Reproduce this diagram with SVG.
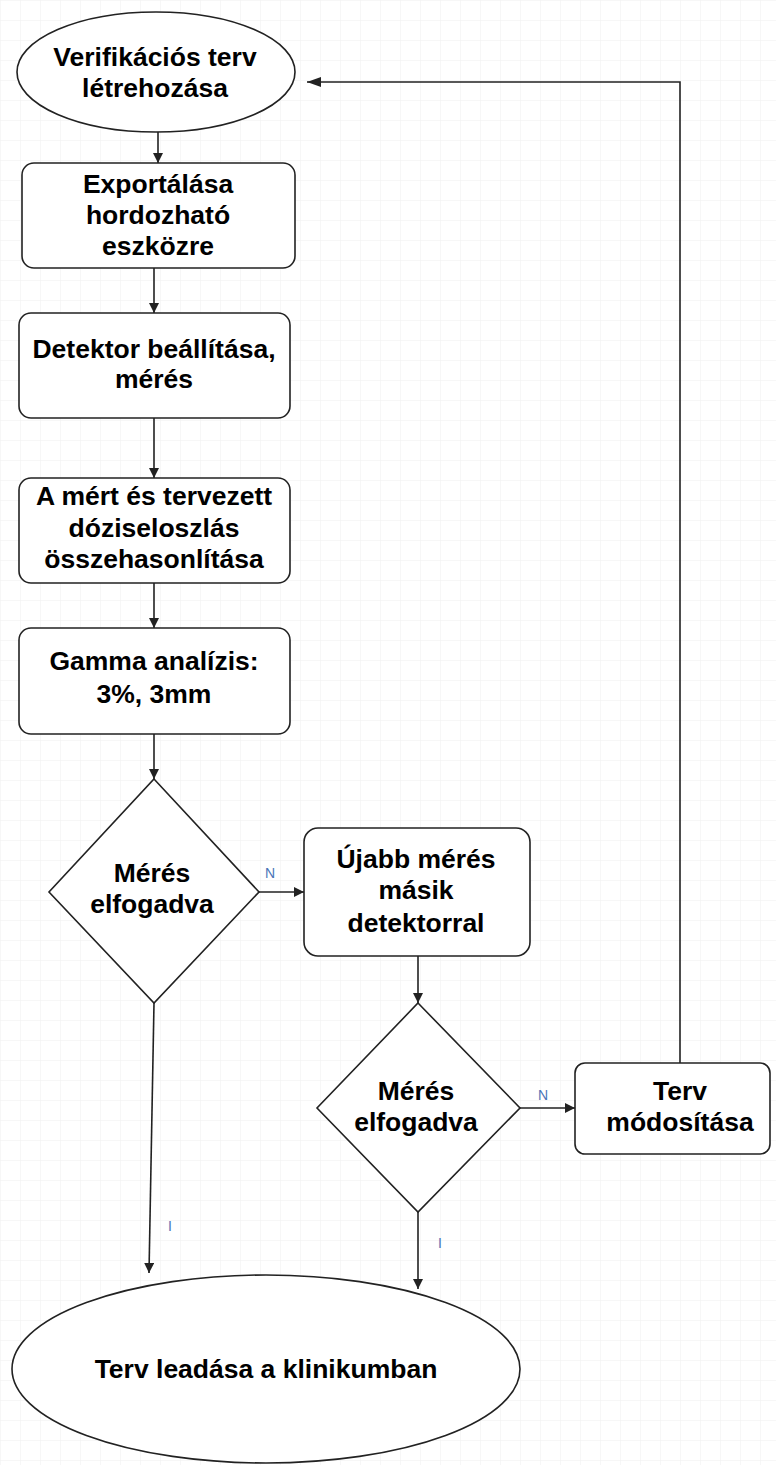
<svg xmlns="http://www.w3.org/2000/svg" width="776" height="1465" viewBox="0 0 776 1465">
<style>
.n{fill:#fff;stroke:#222;stroke-width:1.6}
.t{font-family:"Liberation Sans",Arial,sans-serif;font-weight:bold;font-size:26.5px;fill:#000;text-anchor:middle}
.c{fill:none;stroke:#222;stroke-width:1.6}
.l{font-family:"Liberation Sans",Arial,sans-serif;font-size:14px;fill:#4a74b8}
</style>
<defs>
<pattern id="grid" width="20" height="20" patternUnits="userSpaceOnUse">
<path d="M20 0H0V20" fill="none" stroke="#f0f0f0" stroke-width="1"/>
</pattern>
<marker id="a" markerUnits="userSpaceOnUse" markerWidth="12" markerHeight="12" refX="10" refY="5" orient="auto">
<path d="M0,0 L10,5 L0,10 Z" fill="#222"/>
</marker>
<marker id="b" markerUnits="userSpaceOnUse" markerWidth="16" markerHeight="12" refX="14" refY="5" orient="auto">
<path d="M0,0 L14,5 L0,10 Z" fill="#222"/>
</marker>
</defs>
<rect width="776" height="1465" fill="#fff"/>
<rect width="776" height="1465" fill="url(#grid)"/>
<g id="connectors">
<path class="c" d="M158,132 V163" marker-end="url(#a)"/>
<path class="c" d="M154,268 V313" marker-end="url(#a)"/>
<path class="c" d="M154,418 V478" marker-end="url(#a)"/>
<path class="c" d="M154,583 V628" marker-end="url(#a)"/>
<path class="c" d="M154,734 V779" marker-end="url(#a)"/>
<path class="c" d="M259,892 H304" marker-end="url(#a)"/>
<path class="c" d="M418,956 V1003" marker-end="url(#a)"/>
<path class="c" d="M520,1108 H575" marker-end="url(#a)"/>
<path class="c" d="M680,1063 V82 H307" marker-end="url(#b)"/>
<path class="c" d="M154,1003 L149,1273" marker-end="url(#a)"/>
<path class="c" d="M418,1212 V1289" marker-end="url(#a)"/>
<text class="l" x="265" y="878">N</text>
<text class="l" x="538" y="1100">N</text>
<text class="l" x="168" y="1231">I</text>
<text class="l" x="438" y="1248">I</text>
</g>
<g id="start">
<ellipse class="n" cx="156" cy="72" rx="139" ry="60"/>
<text class="t" x="155" y="66">Verifikációs terv</text>
<text class="t" x="155" y="97">létrehozása</text>
</g>
<g id="export">
<rect class="n" x="22" y="163" width="273" height="105" rx="12"/>
<text class="t" x="158" y="193">Exportálása</text>
<text class="t" x="158" y="224">hordozható</text>
<text class="t" x="158" y="255">eszközre</text>
</g>
<g id="detektor">
<rect class="n" x="19" y="313" width="271" height="105" rx="12"/>
<text class="t" x="154" y="358">Detektor beállítása,</text>
<text class="t" x="154" y="388">mérés</text>
</g>
<g id="osszehasonlitas">
<rect class="n" x="19" y="478" width="271" height="105" rx="12"/>
<text class="t" x="154" y="505">A mért és tervezett</text>
<text class="t" x="154" y="537">dóziseloszlás</text>
<text class="t" x="154" y="568">összehasonlítása</text>
</g>
<g id="gamma">
<rect class="n" x="19" y="628" width="271" height="106" rx="12"/>
<text class="t" x="154" y="670">Gamma analízis:</text>
<text class="t" x="154" y="703">3%, 3mm</text>
</g>
<g id="dontes1">
<polygon class="n" points="154,779 259,892 154,1003 49,892"/>
<text class="t" x="152" y="882">Mérés</text>
<text class="t" x="152" y="913">elfogadva</text>
</g>
<g id="ujabb">
<rect class="n" x="304" y="828" width="226" height="128" rx="14"/>
<text class="t" x="416" y="868">Újabb mérés</text>
<text class="t" x="416" y="899">másik</text>
<text class="t" x="416" y="932">detektorral</text>
</g>
<g id="dontes2">
<polygon class="n" points="418,1003 520,1108 418,1212 317,1108"/>
<text class="t" x="416" y="1100">Mérés</text>
<text class="t" x="416" y="1131">elfogadva</text>
</g>
<g id="modositas">
<rect class="n" x="575" y="1063" width="195" height="91" rx="10"/>
<text class="t" x="680" y="1100">Terv</text>
<text class="t" x="680" y="1131">módosítása</text>
</g>
<g id="leadas">
<ellipse class="n" cx="266" cy="1369" rx="254" ry="94"/>
<text class="t" x="266" y="1378">Terv leadása a klinikumban</text>
</g>
</svg>
